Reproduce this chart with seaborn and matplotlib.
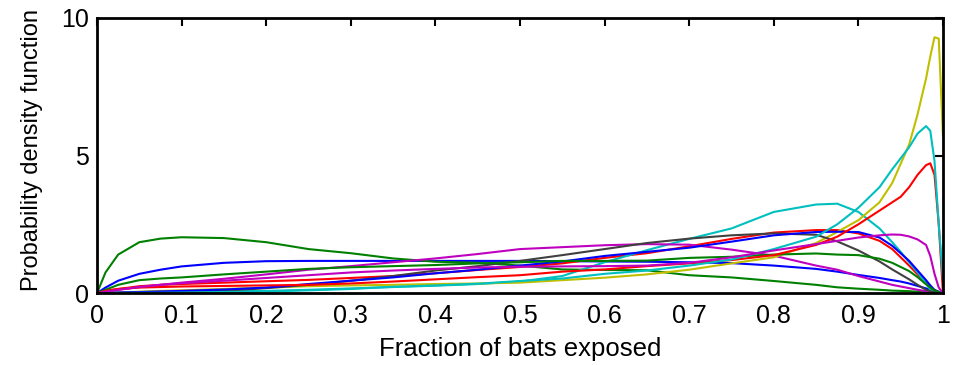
import matplotlib
matplotlib.use("Agg")
import matplotlib.pyplot as plt
import seaborn as sns
import pandas as pd
from matplotlib.ticker import FixedLocator

# Sample positions along the exposed fraction
frac = [0, 0.01, 0.025, 0.05, 0.075, 0.1, 0.15, 0.2, 0.25, 0.3, 0.35, 0.4, 0.45,
        0.5, 0.55, 0.6, 0.65, 0.7, 0.75, 0.8, 0.85, 0.875, 0.9, 0.925, 0.94, 0.95,
        0.96, 0.97, 0.98, 0.985, 0.99, 0.995, 1.0]

# Density curves, one per scenario
blue_a = [0, 0.2, 0.45, 0.7, 0.85, 0.97, 1.1, 1.16, 1.17, 1.17, 1.17, 1.17, 1.17,
          1.17, 1.16, 1.15, 1.14, 1.12, 1.09, 1.0, 0.88, 0.78, 0.66, 0.55, 0.47, 0.42,
          0.35, 0.26, 0.17, 0.12, 0.07, 0.03, 0]
green_a = [0, 0.75, 1.4, 1.85, 1.98, 2.03, 2.0, 1.85, 1.6, 1.45, 1.26, 1.14, 1.1,
           1.0, 0.86, 0.84, 0.83, 0.65, 0.57, 0.44, 0.3, 0.21, 0.16, 0.12, 0.09, 0.08,
           0.07, 0.05, 0.04, 0.03, 0.02, 0.01, 0]
red_a = [0, 0.08, 0.15, 0.25, 0.3, 0.33, 0.38, 0.43, 0.48, 0.55, 0.62, 0.72, 0.84,
         0.95, 1.08, 1.28, 1.45, 1.7, 1.97, 2.2, 2.29, 2.29, 2.17, 1.9, 1.6, 1.3,
         1.0, 0.68, 0.36, 0.22, 0.1, 0.04, 0]
cyan_a = [0, 0.0, 0.01, 0.02, 0.03, 0.04, 0.06, 0.08, 0.12, 0.17, 0.22, 0.27, 0.33,
          0.42, 0.62, 1.12, 1.56, 1.97, 2.35, 2.95, 3.22, 3.25, 2.95, 2.35, 1.85, 1.5,
          1.12, 0.75, 0.35, 0.12, 0.05, 0.02, 0]
magenta_a = [0, 0.05, 0.12, 0.22, 0.3, 0.38, 0.52, 0.68, 0.85, 0.98, 1.12, 1.26, 1.42,
             1.6, 1.67, 1.74, 1.78, 1.76, 1.58, 1.36, 1.0, 0.85, 0.62, 0.42, 0.3, 0.24,
             0.18, 0.12, 0.07, 0.05, 0.03, 0.01, 0]
yellow_a = [0, 0.0, 0.02, 0.05, 0.08, 0.1, 0.15, 0.2, 0.25, 0.28, 0.3, 0.33, 0.35,
            0.38, 0.47, 0.56, 0.68, 0.85, 1.08, 1.3, 1.82, 2.22, 2.65, 3.3, 4.0, 4.7,
            5.4, 6.5, 7.8, 8.6, 9.3, 9.25, 5.7]
grey_a = [0, 0.0, 0.01, 0.01, 0.02, 0.03, 0.08, 0.18, 0.3, 0.45, 0.62, 0.82, 0.98,
          1.17, 1.38, 1.6, 1.82, 1.98, 2.1, 2.17, 2.12, 1.88, 1.55, 1.15, 0.86, 0.68,
          0.5, 0.3, 0.12, 0.07, 0.03, 0.01, 0]
blue_b = [0, 0.01, 0.02, 0.04, 0.06, 0.08, 0.13, 0.2, 0.33, 0.45, 0.57, 0.72, 0.85,
          1.0, 1.15, 1.35, 1.5, 1.65, 1.87, 2.1, 2.22, 2.23, 2.22, 2.02, 1.72, 1.45,
          1.17, 0.82, 0.47, 0.28, 0.12, 0.05, 0]
green_b = [0, 0.12, 0.3, 0.47, 0.53, 0.57, 0.68, 0.78, 0.88, 0.94, 0.98, 1.02, 1.08,
           1.12, 1.17, 1.17, 1.18, 1.28, 1.32, 1.4, 1.44, 1.4, 1.38, 1.25, 1.1, 0.95,
           0.8, 0.58, 0.32, 0.2, 0.1, 0.04, 0]
red_b = [0, 0.08, 0.15, 0.2, 0.22, 0.24, 0.26, 0.28, 0.3, 0.35, 0.42, 0.5, 0.58,
         0.65, 0.78, 0.86, 0.98, 1.08, 1.2, 1.38, 1.75, 2.05, 2.5, 3.0, 3.3, 3.5,
         3.85, 4.3, 4.65, 4.72, 4.3, 2.5, 0]
cyan_b = [0, 0.0, 0.0, 0.01, 0.01, 0.02, 0.04, 0.06, 0.1, 0.15, 0.23, 0.28, 0.34,
          0.44, 0.53, 0.7, 0.82, 1.0, 1.22, 1.6, 2.05, 2.5, 3.1, 3.85, 4.5, 4.9,
          5.3, 5.8, 6.07, 5.9, 4.8, 2.5, 0.5]
magenta_b = [0, 0.05, 0.12, 0.22, 0.3, 0.36, 0.45, 0.55, 0.65, 0.75, 0.82, 0.88, 0.93,
             0.96, 0.97, 0.98, 1.0, 1.1, 1.3, 1.55, 1.78, 1.9, 2.02, 2.1, 2.13, 2.12,
             2.06, 1.95, 1.75, 1.35, 0.7, 0.2, 0]

series = {
    "blue_a": blue_a, "green_a": green_a, "red_a": red_a, "cyan_a": cyan_a,
    "magenta_a": magenta_a, "yellow_a": yellow_a, "grey_a": grey_a,
    "blue_b": blue_b, "green_b": green_b, "red_b": red_b, "cyan_b": cyan_b,
    "magenta_b": magenta_b,
}
colours = {
    "blue_a": "#0000FF", "green_a": "#008000", "red_a": "#FF0000", "cyan_a": "#00BFBF",
    "magenta_a": "#BF00BF", "yellow_a": "#BFBF00", "grey_a": "#404040",
    "blue_b": "#0000FF", "green_b": "#008000", "red_b": "#FF0000", "cyan_b": "#00BFBF",
    "magenta_b": "#BF00BF",
}

df = pd.DataFrame(
    [(name, x, y) for name, ys in series.items() for x, y in zip(frac, ys)],
    columns=["curve", "x", "y"],
)

sns.set_style("white")
plt.rcParams["font.family"] = ["Liberation Sans", "DejaVu Sans"]
plt.rcParams["text.color"] = "black"
plt.rcParams["axes.labelcolor"] = "black"

fig = plt.figure(figsize=(9.55, 3.65), dpi=100)
ax = fig.add_axes([0.1016, 0.197, 0.8858, 0.7537])

sns.lineplot(data=df, x="x", y="y", hue="curve", palette=colours, legend=False,
             estimator=None, sort=False, linewidth=1.5, ax=ax)

ax.set_xlim(0, 1)
ax.set_ylim(0, 10)
ax.xaxis.set_major_locator(FixedLocator([i / 10 for i in range(11)]))
ax.set_xticklabels(["0"] + [f"{i / 10:.1f}" for i in range(1, 10)] + ["1"])
ax.yaxis.set_major_locator(FixedLocator([0, 5, 10]))
ax.set_yticklabels(["0", "5", "10"])
ax.tick_params(direction="in", length=6, width=1.5, top=True, right=True,
               labelsize=18, colors="black")
ax.tick_params(axis="x", pad=8)
ax.tick_params(axis="y", pad=6)
for s in ax.spines.values():
    s.set_color("black")
    s.set_linewidth(2)
ax.set_xlabel("Fraction of bats exposed", fontsize=18.5, labelpad=6)
ax.set_ylabel("Probability density function", fontsize=17)
ax.yaxis.set_label_coords(-0.064, 0.52)

fig.savefig("out.png", dpi=100)
